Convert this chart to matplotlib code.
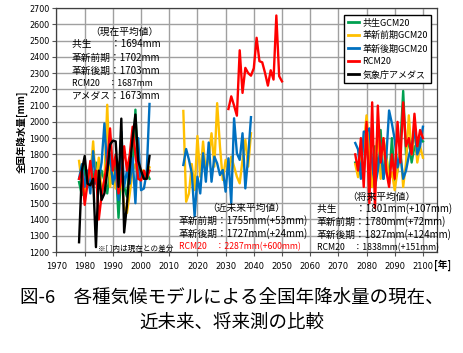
import matplotlib
matplotlib.use("Agg")
import matplotlib.pyplot as plt
from matplotlib.lines import Line2D

plt.rcParams['font.family'] = ['Noto Sans CJK JP', 'DejaVu Sans']

# ---------------- data ----------------
years_cur = list(range(1978, 2004))
amedas_cur = [1260, 1700, 1790, 1620, 1610, 1650, 1230, 1700, 1520, 1560,
              1690, 1860, 1885, 1880, 1600, 2020, 1320, 1490, 1720, 1900,
              2045, 1760, 1700, 1650, 1650, 1790]
kyosei_cur = [1630, 1550, 1740, 1600, 1700, 1640, 1750, 1600, 1700, 1640,
              1560, 1700, 1620, 1750, 1410, 1700, 1600, 1540, 1760, 1700,
              2075, 1650, 1700, 1660, 1690, 1650]
zenki_cur = [1760, 1620, 1560, 1700, 1650, 1880, 1620, 1780, 1560, 1640,
             2105, 1600, 1700, 1590, 1750, 1650, 1480, 1440, 1560, 1700,
             1740, 1650, 1700, 1700, 1680, 1720]
koki_cur = [1650, 1740, 1600, 1700, 1560, 1820, 1620, 1650, 1750, 1990,
            1700, 1800, 1620, 1700, 1520, 1940, 1600, 1700, 1620, 1780,
            1500, 1900, 1580, 1590, 1690, 2110]
rcm_cur = [1650, 1700, 1490, 1620, 1760, 1600, 1700, 1400, 1550, 1650,
           1750, 1960, 1700, 1800, 1560, 1650, 1850, 1700, 1800, 1970,
           1800, 1650, 1640, 1700, 1650, 1700]

years_near = list(range(2015, 2040))
zenki_near = [2067, 1509, 1560, 1741, 1581, 1913, 1663, 1879, 1683, 1786,
              1930, 1725, 2115, 1848, 1643, 1766, 1683, 1786, 1725, 1663,
              1622, 1766, 1889, 1725, 1930]
koki_near = [1735, 1833, 1766, 1683, 1420, 1663, 1560, 1807, 1632, 1873,
             1632, 1786, 1745, 1673, 1704, 1571, 1776, 1500, 2022, 1807,
             1766, 1930, 1591, 1786, 2029]
years_rcm_near = list(range(2031, 2051))
rcm_near = [2079, 2157, 2100, 2038, 2440, 2178, 2332, 2300, 2284, 2330,
            2517, 2373, 2366, 2300, 2223, 2317, 2260, 2654, 2281, 2249]

years_fut = list(range(2076, 2101))
kyosei_fut = [1750, 1700, 1800, 1680, 1900, 1750, 1600, 1850, 1700, 1950,
              1650, 1800, 1620, 1900, 1640, 1700, 1850, 2190, 1800, 1900,
              1750, 1850, 1800, 1900, 1880]
zenki_fut = [1740, 1660, 1760, 1850, 2040, 1820, 1600, 1720, 1970, 1650,
             1900, 1800, 1640, 1690, 1580, 1700, 1850, 1600, 1750, 2040,
             1800, 1960, 1750, 1850, 1780]
koki_fut = [1870, 1830, 1650, 1940, 1940, 1960, 1750, 1600, 1700, 1850,
            1650, 1780, 2070, 1990, 1890, 1720, 1800, 1650, 1700, 1790,
            1850, 1950, 1800, 1850, 1970]
rcm_fut = [1800, 1700, 1900, 1600, 2000, 1500, 2120, 1470, 2100, 1750,
           1900, 1700, 1600, 1800, 1650, 2000, 1750, 2120, 1850, 1900,
           1800, 2050, 1850, 1950, 1900]

legend_labels = ['共生GCM20', '革新前期GCM20', '革新後期GCM20', 'RCM20', '気象庁アメダス']
colors = ['#00A050', '#FFC000', '#0070C0', '#FF0000', '#000000']
x_ticks = list(range(1970, 2101, 10))
y_ticks = list(range(1200, 2701, 100))

# ---------------- figure ----------------
W, H = 464, 353
fig = plt.figure(figsize=(W / 100, H / 100), dpi=100)
L, R, T, B = 56.5, 437, 8, 252
ax = fig.add_axes([L / W, 1 - B / H, (R - L) / W, (B - T) / H])

lw = 1.7
c_g, c_y, c_b, c_r, c_k = colors
ax.plot(years_cur, kyosei_cur, color=c_g, lw=lw)
ax.plot(years_cur, zenki_cur, color=c_y, lw=lw)
ax.plot(years_cur, koki_cur, color=c_b, lw=lw)
ax.plot(years_cur, rcm_cur, color=c_r, lw=lw)
ax.plot(years_cur, amedas_cur, color=c_k, lw=lw)

ax.plot(years_near, zenki_near, color=c_y, lw=lw)
ax.plot(years_near, koki_near, color=c_b, lw=lw)
ax.plot(years_rcm_near, rcm_near, color=c_r, lw=lw)

ax.plot(years_fut, kyosei_fut, color=c_g, lw=lw)
ax.plot(years_fut, zenki_fut, color=c_y, lw=lw)
ax.plot(years_fut, koki_fut, color=c_b, lw=lw)
ax.plot(years_fut, rcm_fut, color=c_r, lw=lw)

ax.set_xlim(1970, 2105)
ax.set_ylim(1200, 2700)
ax.set_xticks(x_ticks)
ax.set_yticks(y_ticks)
ax.set_xticklabels([str(v) for v in x_ticks], fontsize=6, family='DejaVu Sans')
ax.set_yticklabels([str(v) for v in y_ticks], fontsize=5.8, family='DejaVu Sans')
ax.tick_params(axis='x', length=3, width=0.8, color='#555555', pad=4)
ax.tick_params(axis='y', length=3, width=0.8, color='#555555', pad=2)
ax.grid(True, color='#a0a0a0', lw=1.0)
ax.set_axisbelow(True)
for s in ax.spines.values():
    s.set_color('#404040')
    s.set_linewidth(0.9)

fig.text(22 / W, 1 - 132 / H, '全国年降水量[mm]', rotation=90, ha='center', va='center',
         fontsize=6.8, fontweight='bold')
fig.text(443 / W, 1 - 265 / H, '[年]', ha='center', va='center', fontsize=7, fontweight='bold')

# legend
handles = [Line2D([0], [0], color=c, lw=2) for c in colors]
leg = fig.legend(handles, legend_labels, loc='upper right',
                 bbox_to_anchor=(436 / W, 1 - 10 / H), fontsize=6.5,
                 frameon=True, fancybox=False, edgecolor='black', framealpha=1,
                 handlelength=1.2, handletextpad=0.4, labelspacing=0.45,
                 borderpad=0.4)
leg.get_frame().set_linewidth(1.0)

def ftxt(x, y, s, size=7, color='black', ha='left'):
    fig.text(x / W, 1 - y / H, s, fontsize=size, color=color, ha=ha, va='center')

# present averages
ftxt(124, 32, '（現在平均値）', ha='center')
ftxt(72, 44, '共生　　：1694mm')
ftxt(72, 57.5, '革新前期：1702mm')
ftxt(72, 70.5, '革新後期：1703mm')
ftxt(72, 83, 'RCM20　：1687mm', size=6.3)
ftxt(72, 96, 'アメダス：1673mm')
ftxt(98, 249, '※[ ]内は現在との差分', size=5.5)

# near future
ftxt(246, 208, '（近未来平均値）', ha='center')
ftxt(179, 221, '革新前期：1755mm(+53mm)')
ftxt(179, 234, '革新後期：1727mm(+24mm)')
ftxt(179, 247, 'RCM20　：2287mm(+600mm)', size=6.3, color='#FF0000')

# future
ftxt(381, 197, '（将来平均値）', ha='center')
ftxt(317, 209, '共生　　：1801mm(+107mm)')
ftxt(317, 222, '革新前期：1780mm(+72mm)')
ftxt(317, 235, '革新後期：1827mm(+124mm)')
ftxt(317, 247.5, 'RCM20　：1838mm(+151mm)', size=6.3)

# caption
fig.text(0.5, 1 - 298 / H, '図-6　各種気候モデルによる全国年降水量の現在、',
         ha='center', va='center', fontsize=13.3)
fig.text(0.5, 1 - 323 / H, '近未来、将来測の比較',
         ha='center', va='center', fontsize=13.3)

fig.savefig('out.png', dpi=100, facecolor='white')
